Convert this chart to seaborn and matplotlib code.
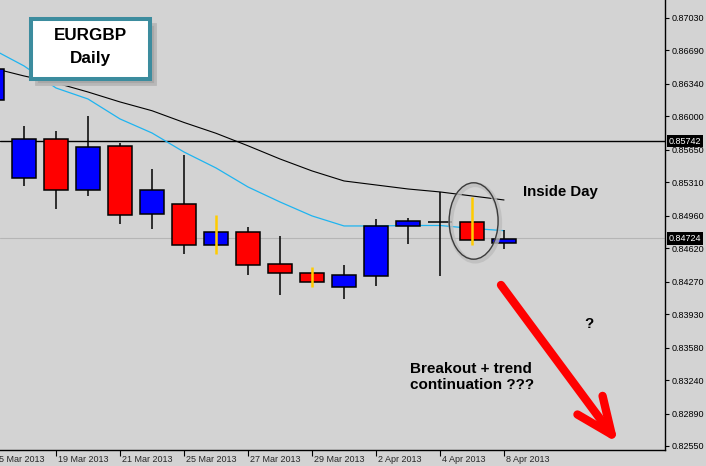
import matplotlib
matplotlib.use("Agg")
import matplotlib.pyplot as plt
from matplotlib.patches import Ellipse, Rectangle
from matplotlib.transforms import blended_transform_factory
import pandas as pd
import seaborn as sns

# EURGBP daily candles, 15 Mar - 8 Apr 2013
dates = ["15 Mar 2013", "18 Mar 2013", "19 Mar 2013", "20 Mar 2013", "21 Mar 2013",
         "22 Mar 2013", "25 Mar 2013", "26 Mar 2013", "27 Mar 2013", "28 Mar 2013",
         "29 Mar 2013", "1 Apr 2013", "2 Apr 2013", "3 Apr 2013", "4 Apr 2013",
         "5 Apr 2013", "8 Apr 2013"]
opens = [0.86172, 0.85352, 0.85760, 0.85230, 0.85687, 0.84975, 0.85080, 0.84651, 0.84787,
         0.84452, 0.84358, 0.84211, 0.84333, 0.84850, 0.84892, 0.84892, 0.84672]
highs = [0.86549, 0.85900, 0.85847, 0.86004, 0.85725, 0.85450, 0.85596, 0.84965, 0.84842,
         0.84748, 0.84424, 0.84445, 0.84926, 0.84937, 0.85206, 0.85153, 0.84808]
lows = [0.86130, 0.85275, 0.85034, 0.85170, 0.84877, 0.84825, 0.84563, 0.84563, 0.84343,
        0.84134, 0.84214, 0.84092, 0.84228, 0.84668, 0.84333, 0.84657, 0.84615]
closes = [0.86493, 0.85760, 0.85230, 0.85677, 0.84965, 0.85227, 0.84651, 0.84787, 0.84442,
          0.84358, 0.84270, 0.84337, 0.84850, 0.84905, 0.84892, 0.84703, 0.84714]
# moving averages
ma_fast = [0.86706, 0.86528, 0.86297, 0.86182, 0.85973, 0.85826, 0.85627, 0.85460, 0.85261,
           0.85104, 0.84958, 0.84853, 0.84853, 0.84858, 0.84858, 0.84827, 0.84804]
ma_slow = [0.86507, 0.86423, 0.86350, 0.86255, 0.86151, 0.86059, 0.85936, 0.85823, 0.85692,
           0.85554, 0.85429, 0.85324, 0.85282, 0.85240, 0.85209, 0.85167, 0.85125]
# days whose wick is highlighted in yellow
yellow_days = ["26 Mar 2013", "29 Mar 2013", "5 Apr 2013"]
inside_day = "5 Apr 2013"

tick_dates = ["15 Mar 2013", "19 Mar 2013", "21 Mar 2013", "25 Mar 2013", "27 Mar 2013",
              "29 Mar 2013", "2 Apr 2013", "4 Apr 2013", "8 Apr 2013"]
price_ticks = [0.87030, 0.86690, 0.86340, 0.86000, 0.85650, 0.85310, 0.84960,
               0.84620, 0.84270, 0.83930, 0.83580, 0.83240, 0.82890, 0.82550]
level_line = 0.85742
last_price = 0.84724

df = pd.DataFrame({"date": dates, "open": opens, "high": highs, "low": lows,
                   "close": closes, "ma_fast": ma_fast, "ma_slow": ma_slow})
df["idx"] = range(len(df))

sns.set_theme(style="ticks")
plt.rcParams["font.family"] = ["Liberation Sans", "DejaVu Sans"]
bg = "#D3D3D3"

W, H = 706, 466
fig = plt.figure(figsize=(W / 100, H / 100), dpi=100, facecolor=bg)
ax = fig.add_axes([0, 16 / H, 665 / W, 450 / H], facecolor=bg)

def to_ax(xp, yp):
    # pixel position inside plot area -> axes fraction
    return xp / 665, (450 - yp) / 450

# reference lines
ax.axhline(last_price, color="#B5B5B5", lw=0.8, zorder=1)
ax.axhline(level_line, color="black", lw=1.0, zorder=1.5)

# moving averages
sns.lineplot(data=df, x="idx", y="ma_slow", color="black", lw=0.8, ax=ax, zorder=2)
sns.lineplot(data=df, x="idx", y="ma_fast", color="#1EB4F0", lw=0.9, ax=ax, zorder=2)

# candles
bw = 0.75
for _, r in df.iterrows():
    yellow = r["date"] in yellow_days
    ax.vlines(r["idx"], r["low"], r["high"], color="#FFCC00" if yellow else "black",
              lw=1.8 if yellow else 1.1, zorder=5 if yellow else 3)
    if r["open"] == r["close"]:
        ax.hlines(r["open"], r["idx"] - bw / 2, r["idx"] + bw / 2, color="black", lw=1.1, zorder=4)
        continue
    up = r["close"] > r["open"]
    ax.bar(r["idx"], abs(r["close"] - r["open"]), bottom=min(r["open"], r["close"]), width=bw,
           color="#0000FF" if up else "#FF0000", edgecolor="black", lw=1.1, zorder=4)

ax.set_xlabel("")
ax.set_ylabel("")

# axes styling like the trading terminal
for s in ["top", "left"]:
    ax.spines[s].set_visible(False)
for s in ["right", "bottom"]:
    ax.spines[s].set_color("black")
    ax.spines[s].set_linewidth(1.0)
ax.yaxis.tick_right()
ax.set_yticks(price_ticks)
ax.set_yticklabels([f"{p:.5f}" for p in price_ticks])
ax.tick_params(axis="y", length=3, width=0.8, pad=1.5, labelsize=6.5, colors="black")
tick_idx = [dates.index(d) for d in tick_dates]
ax.set_xticks(tick_idx)
ax.set_xticklabels([])
ax.tick_params(axis="x", length=4, width=0.8, colors="black")

# limits after the ticks, so set_xticks does not widen the view
ax.set_xlim(0.25, 21.03)
ax.set_ylim(0.82508, 0.87218)

xt = blended_transform_factory(ax.transData, ax.transAxes)
for i, d in zip(tick_idx, tick_dates):
    ax.text(i + 0.07, -0.02, d, transform=xt, ha="left", va="center", fontsize=6.5,
            clip_on=False)

# price flags on the right axis
yt = blended_transform_factory(ax.transAxes, ax.transData)
for p in [level_line, last_price]:
    ax.text(1.006, p, f"{p:.5f}", transform=yt, ha="left", va="center", fontsize=6.5,
            color="white", clip_on=False, zorder=20,
            bbox=dict(boxstyle="square,pad=0.2", fc="black", ec="none"))

# title box with shadow
x0, y0 = to_ax(31, 79)
ax.add_patch(Rectangle((x0 + 5 / 665, y0 - 5 / 450), 119 / 665, 60 / 450, transform=ax.transAxes,
                       fc="#A8A8A8", ec="#B8B8B8", lw=2, zorder=9))
ax.add_patch(Rectangle((x0, y0), 119 / 665, 60 / 450, transform=ax.transAxes,
                       fc="white", ec="#3C8C9E", lw=2.9, zorder=10))
ax.text(*to_ax(90.5, 36), "EURGBP", transform=ax.transAxes, ha="center", va="center",
        fontsize=12.3, fontweight="bold", color="black", zorder=11)
ax.text(*to_ax(90.5, 59), "Daily", transform=ax.transAxes, ha="center", va="center",
        fontsize=12.3, fontweight="bold", color="black", zorder=11)

# ellipse around the inside day
k = dates.index(inside_day)
ec_y = (highs[k] + lows[k]) / 2
ax.add_patch(Ellipse((k + 0.1, ec_y - 0.0002), 1.53, 0.0080, fill=False, ec="#BDBDBD",
                     lw=3.5, alpha=0.8, zorder=6))
ax.add_patch(Ellipse((k + 0.05, ec_y), 1.53, 0.0080, fill=False, ec="#3A3A3A",
                     lw=1.0, zorder=7))

ax.text(*to_ax(523, 192), "Inside Day", transform=ax.transAxes, ha="left", va="center",
        fontsize=10.8, fontweight="bold", color="black")
ax.text(*to_ax(589, 324), "?", transform=ax.transAxes, ha="center", va="center",
        fontsize=11, fontweight="bold", color="black")
ax.text(*to_ax(410, 377), "Breakout + trend\ncontinuation ???", transform=ax.transAxes,
        ha="left", va="center", fontsize=11, fontweight="bold", color="black",
        linespacing=1.2)

# big red arrow
ax.annotate("", xy=to_ax(618, 443), xytext=to_ax(501, 285), xycoords="axes fraction",
            textcoords="axes fraction",
            arrowprops=dict(arrowstyle="->,head_length=1.05,head_width=0.45", color="#FF0000",
                            lw=6, mutation_scale=25, shrinkA=0, shrinkB=0))

fig.savefig("out.png", dpi=100, facecolor=bg)
